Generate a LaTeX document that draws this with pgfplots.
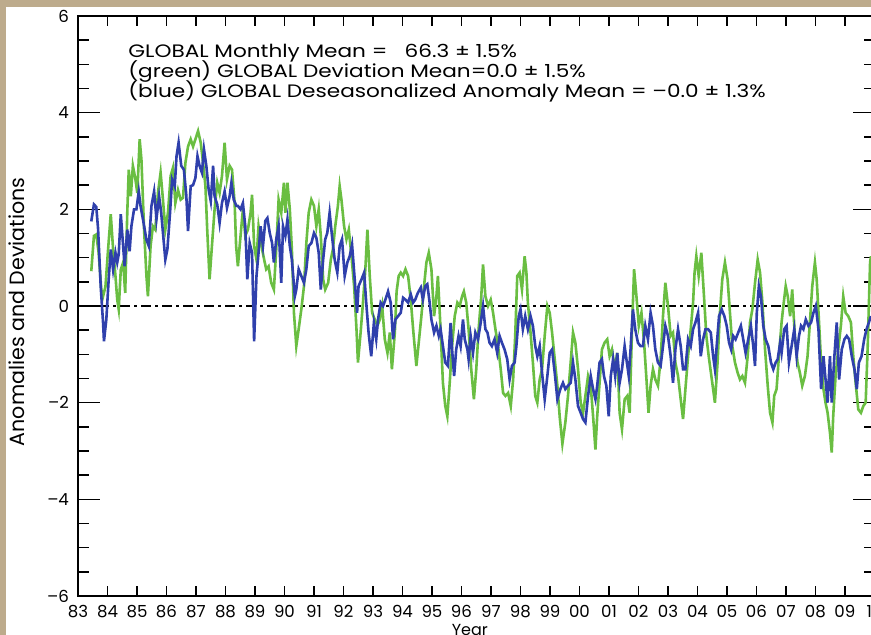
\documentclass[border=0pt]{standalone}
\usepackage{pgfplots}
\pgfplotsset{compat=1.18}
\usepackage{pgfplotstable}
\usepackage{graphicx}
\usepackage{fontspec}
\setmainfont{Poppins}
\definecolor{tanbg}{RGB}{189,171,140}
\definecolor{cblue}{RGB}{47,64,172}
\definecolor{cgreen}{RGB}{106,190,66}

\pgfplotstableread{
year val
1983.45 0.72
1983.54 1.45
1983.62 1.48
1983.70 1.10
1983.79 0.34
1983.85 0.20
1983.93 0.40
1984.02 1.17
1984.11 1.90
1984.19 1.17
1984.27 0.62
1984.33 0.13
1984.38 -0.07
1984.45 0.75
1984.53 0.90
1984.60 0.27
1984.67 1.93
1984.72 2.82
1984.79 2.27
1984.86 2.90
1984.94 2.65
1985.01 2.34
1985.09 3.45
1985.15 3.03
1985.24 1.58
1985.32 0.62
1985.37 0.20
1985.46 1.24
1985.54 1.65
1985.62 1.58
1985.71 2.34
1985.80 2.76
1985.88 2.20
1985.96 1.58
1986.05 1.93
1986.14 2.69
1986.22 2.86
1986.30 2.13
1986.39 2.40
1986.48 2.20
1986.56 2.24
1986.64 2.96
1986.73 3.30
1986.82 3.45
1986.90 3.30
1986.98 3.45
1987.07 3.62
1987.16 3.38
1987.24 2.96
1987.32 2.48
1987.38 1.58
1987.46 0.55
1987.54 1.24
1987.63 2.00
1987.72 2.55
1987.80 2.34
1987.88 2.69
1987.97 3.38
1988.05 2.62
1988.14 2.90
1988.22 2.82
1988.31 2.13
1988.36 1.24
1988.42 0.82
1988.51 1.45
1988.59 2.00
1988.67 1.45
1988.76 1.58
1988.85 1.93
1988.90 2.30
1988.97 1.24
1989.05 0.96
1989.12 1.65
1989.22 1.24
1989.31 0.96
1989.38 0.76
1989.46 0.82
1989.55 0.48
1989.64 0.34
1989.72 1.17
1989.80 2.20
1989.89 1.93
1989.98 2.55
1990.03 1.93
1990.10 2.55
1990.18 2.00
1990.25 1.17
1990.32 -0.14
1990.40 -0.83
1990.48 -0.48
1990.57 -0.07
1990.66 0.41
1990.74 1.30
1990.82 1.93
1990.91 2.20
1991.00 2.07
1991.08 1.65
1991.16 2.00
1991.23 1.45
1991.31 0.55
1991.38 0.34
1991.48 0.48
1991.57 0.96
1991.64 1.17
1991.72 1.65
1991.81 2.07
1991.87 2.48
1991.93 2.20
1992.02 1.65
1992.10 1.38
1992.18 1.58
1992.27 1.03
1992.36 0.41
1992.44 -0.48
1992.49 -1.17
1992.58 -0.55
1992.66 0.07
1992.74 0.76
1992.81 1.58
1992.89 0.62
1992.97 -0.14
1993.06 -0.28
1993.15 -0.41
1993.23 -0.28
1993.31 0.00
1993.40 -0.69
1993.49 -0.97
1993.57 -0.55
1993.64 -1.31
1993.74 -0.55
1993.80 0.30
1993.87 0.62
1993.94 0.69
1994.02 0.62
1994.10 0.76
1994.19 0.62
1994.28 0.13
1994.36 -0.48
1994.47 -1.24
1994.55 -0.76
1994.64 -0.21
1994.73 0.41
1994.81 0.90
1994.89 1.10
1994.98 0.76
1995.07 -0.21
1995.15 0.20
1995.20 0.62
1995.29 -0.48
1995.37 -1.59
1995.45 -2.07
1995.52 -2.28
1995.60 -1.59
1995.68 -0.83
1995.77 -0.21
1995.86 0.07
1995.94 0.00
1996.02 0.20
1996.08 0.30
1996.16 0.07
1996.24 -0.48
1996.33 -1.31
1996.42 -1.93
1996.50 -1.31
1996.58 -0.48
1996.67 0.20
1996.73 0.86
1996.81 0.20
1996.90 0.00
1996.99 0.13
1997.07 -0.14
1997.15 -0.48
1997.24 -0.83
1997.33 -1.31
1997.41 -1.80
1997.49 -1.86
1997.58 -1.80
1997.67 -2.07
1997.75 -1.52
1997.82 -0.62
1997.89 0.62
1997.97 0.69
1998.05 0.34
1998.14 1.03
1998.20 0.69
1998.25 0.07
1998.34 -0.55
1998.42 -1.17
1998.50 -1.86
1998.57 -2.00
1998.65 -1.52
1998.73 -1.31
1998.82 -0.62
1998.91 0.00
1998.99 -0.14
1999.07 -0.55
1999.16 -1.10
1999.25 -1.65
1999.33 -2.30
1999.42 -2.85
1999.52 -2.41
1999.61 -1.86
1999.70 -1.17
1999.78 -0.55
1999.86 -0.76
1999.95 -1.31
2000.04 -2.00
2000.12 -2.21
2000.20 -1.86
2000.29 -1.45
2000.38 -1.65
2000.46 -2.28
2000.54 -2.97
2000.60 -2.28
2000.68 -1.59
2000.76 -0.90
2000.85 -0.76
2000.94 -0.69
2001.02 -1.04
2001.10 -0.90
2001.19 -1.31
2001.28 -0.97
2001.36 -2.21
2001.44 -2.55
2001.53 -1.93
2001.62 -1.86
2001.70 -2.21
2001.78 -0.48
2001.85 0.76
2001.93 0.20
2002.01 -0.41
2002.10 -0.14
2002.19 -0.76
2002.27 -1.52
2002.34 -2.21
2002.41 -1.65
2002.49 -1.31
2002.57 -1.52
2002.66 -1.65
2002.75 -1.10
2002.83 -0.21
2002.91 0.48
2003.00 0.00
2003.09 -0.62
2003.17 -0.55
2003.25 -1.17
2003.34 -1.45
2003.43 -1.93
2003.51 -2.34
2003.59 -1.72
2003.68 -1.04
2003.77 -0.48
2003.85 0.07
2003.90 0.69
2003.96 1.03
2004.04 0.62
2004.13 1.10
2004.22 0.20
2004.30 -0.62
2004.38 -1.04
2004.47 -1.45
2004.59 -2.00
2004.68 -1.17
2004.76 -0.14
2004.84 0.55
2004.93 0.90
2005.02 0.55
2005.10 -0.14
2005.18 -0.83
2005.27 -1.17
2005.36 -1.38
2005.44 -1.52
2005.52 -1.45
2005.61 -1.59
2005.70 -1.04
2005.78 -0.34
2005.86 -0.07
2005.95 0.48
2006.04 0.96
2006.12 0.69
2006.20 0.07
2006.29 -0.90
2006.38 -1.65
2006.46 -2.21
2006.54 -2.41
2006.60 -1.86
2006.68 -1.72
2006.76 -1.04
2006.85 -0.34
2006.91 0.00
2006.99 0.41
2007.06 0.20
2007.14 -0.21
2007.21 0.34
2007.30 -0.62
2007.39 -1.17
2007.47 -1.38
2007.55 -1.65
2007.64 -1.45
2007.73 -1.04
2007.81 -0.34
2007.89 0.41
2007.98 0.90
2008.04 0.55
2008.12 -0.34
2008.19 -1.17
2008.27 -1.72
2008.34 -2.00
2008.41 -2.21
2008.49 -2.62
2008.55 -3.03
2008.60 -2.28
2008.68 -1.45
2008.77 -0.90
2008.86 -0.41
2008.94 0.20
2009.02 -0.14
2009.11 -0.21
2009.20 -0.34
2009.28 -1.04
2009.36 -1.59
2009.45 -2.14
2009.54 -2.21
2009.62 -2.07
2009.70 -2.00
2009.77 -0.83
2009.85 0.90
2009.88 1.03
}\greendata

\pgfplotstableread{
year val
1983.45 1.75
1983.54 2.10
1983.62 2.05
1983.68 1.60
1983.77 0.40
1983.85 -0.35
1983.88 -0.73
1983.96 -0.28
1984.04 0.55
1984.11 1.17
1984.19 0.75
1984.27 1.10
1984.33 0.90
1984.38 1.07
1984.45 1.90
1984.53 1.24
1984.58 0.82
1984.67 1.58
1984.75 1.13
1984.81 1.65
1984.90 2.00
1984.98 2.00
1985.06 2.37
1985.12 2.07
1985.20 1.80
1985.32 1.37
1985.40 1.24
1985.49 2.07
1985.58 2.37
1985.66 1.80
1985.75 2.27
1985.82 1.93
1985.96 0.96
1986.03 1.17
1986.12 1.93
1986.19 2.62
1986.28 2.48
1986.34 3.10
1986.41 3.38
1986.50 2.90
1986.59 2.82
1986.67 2.30
1986.73 1.55
1986.82 2.48
1986.90 2.50
1986.98 2.65
1987.05 3.10
1987.12 2.90
1987.20 2.76
1987.27 3.24
1987.35 2.90
1987.43 2.40
1987.50 2.17
1987.58 2.90
1987.63 2.27
1987.72 2.10
1987.80 1.72
1987.88 2.13
1987.97 2.37
1988.05 2.03
1988.14 2.27
1988.20 2.55
1988.28 2.20
1988.37 2.07
1988.42 2.07
1988.51 2.00
1988.59 2.13
1988.67 1.65
1988.74 0.55
1988.82 1.30
1988.90 1.10
1988.97 -0.73
1989.05 0.62
1989.12 1.10
1989.19 1.65
1989.27 1.24
1989.35 1.76
1989.42 1.82
1989.50 1.51
1989.58 1.30
1989.64 0.90
1989.72 1.38
1989.80 1.65
1989.89 0.48
1989.95 1.65
1990.03 1.45
1990.10 1.79
1990.18 1.24
1990.25 0.96
1990.35 0.20
1990.40 0.34
1990.48 0.76
1990.57 0.62
1990.66 0.48
1990.74 0.76
1990.82 1.24
1990.91 1.30
1991.00 1.51
1991.08 1.41
1991.16 1.10
1991.23 0.34
1991.31 0.96
1991.38 1.38
1991.45 1.51
1991.53 1.93
1991.61 1.45
1991.70 0.96
1991.79 0.69
1991.87 1.24
1991.95 1.38
1992.04 0.62
1992.13 0.90
1992.21 1.03
1992.29 1.27
1992.38 0.55
1992.46 -0.14
1992.51 0.41
1992.61 0.55
1992.70 0.69
1992.77 0.07
1992.85 -0.55
1992.94 -1.04
1993.03 -0.35
1993.11 -0.69
1993.17 -0.28
1993.26 0.07
1993.34 0.00
1993.42 0.13
1993.51 0.30
1993.60 0.07
1993.68 -0.69
1993.76 -0.28
1993.85 -0.21
1993.94 -0.14
1994.02 0.17
1994.10 0.13
1994.19 0.07
1994.28 0.24
1994.36 0.07
1994.43 0.13
1994.52 0.27
1994.62 0.38
1994.69 0.13
1994.77 0.41
1994.84 0.45
1994.92 0.07
1994.98 -0.28
1995.07 -0.55
1995.15 -0.41
1995.23 -0.62
1995.29 -0.48
1995.37 -0.83
1995.45 -1.17
1995.54 -1.24
1995.63 -0.35
1995.68 -0.90
1995.75 -1.45
1995.82 -0.90
1995.90 -0.62
1995.97 -0.83
1996.05 -0.28
1996.11 -0.69
1996.20 -0.90
1996.24 -1.10
1996.31 -0.62
1996.39 -0.97
1996.47 -0.55
1996.56 -0.69
1996.65 -0.35
1996.73 0.00
1996.81 -0.48
1996.88 -0.55
1996.95 -0.76
1997.03 -0.83
1997.12 -0.69
1997.21 -0.97
1997.29 -0.62
1997.37 -0.76
1997.46 -0.90
1997.55 -1.10
1997.63 -1.52
1997.71 -1.24
1997.80 -1.17
1997.86 -0.83
1997.94 -0.21
1998.00 -0.07
1998.08 -0.48
1998.16 -0.21
1998.25 -0.48
1998.34 -0.21
1998.42 -0.41
1998.50 -0.83
1998.57 -1.04
1998.65 -0.83
1998.73 -1.38
1998.82 -1.93
1998.91 -1.45
1998.99 -0.97
1999.07 -0.90
1999.16 -1.38
1999.25 -1.93
1999.35 -1.72
1999.44 -1.59
1999.52 -1.72
1999.61 -1.65
1999.70 -1.59
1999.78 -1.17
1999.86 -1.52
1999.95 -2.07
2000.04 -2.21
2000.12 -2.34
2000.20 -2.41
2000.29 -1.86
2000.38 -1.45
2000.46 -1.72
2000.54 -1.93
2000.60 -1.65
2000.68 -1.17
2000.76 -1.10
2000.83 -1.45
2000.91 -1.65
2000.99 -2.28
2001.06 -1.45
2001.14 -1.10
2001.21 -1.45
2001.28 -0.97
2001.36 -1.59
2001.44 -1.31
2001.53 -0.83
2001.59 -1.10
2001.67 -1.45
2001.73 -0.90
2001.81 -0.07
2001.89 -0.48
2001.98 -0.76
2002.07 -0.83
2002.15 -0.83
2002.23 -0.41
2002.32 -0.69
2002.41 -0.14
2002.49 -0.41
2002.57 -0.90
2002.66 -1.17
2002.75 -1.24
2002.83 -0.83
2002.91 -0.41
2003.00 -0.62
2003.09 -1.04
2003.17 -1.59
2003.25 -0.90
2003.34 -0.48
2003.43 -0.83
2003.51 -1.31
2003.59 -1.31
2003.68 -0.69
2003.77 -0.83
2003.85 -0.48
2003.93 -0.34
2004.02 -0.14
2004.11 -1.04
2004.19 -0.69
2004.27 -0.48
2004.36 -0.48
2004.45 -0.55
2004.53 -1.04
2004.59 -1.31
2004.65 -0.83
2004.73 -0.21
2004.82 -0.07
2004.91 -0.21
2004.99 -0.41
2005.07 -0.76
2005.14 -0.90
2005.21 -0.62
2005.29 -0.69
2005.38 -0.55
2005.47 -0.41
2005.55 -0.69
2005.63 -0.97
2005.72 -0.69
2005.81 -0.41
2005.89 -0.83
2005.95 -1.24
2006.01 -0.14
2006.08 0.41
2006.15 0.20
2006.23 -0.41
2006.31 -0.69
2006.40 -0.83
2006.49 -1.17
2006.57 -1.31
2006.65 -1.17
2006.72 -1.10
2006.80 -0.76
2006.85 -0.97
2006.94 -0.48
2007.02 -0.41
2007.10 -1.17
2007.19 -0.83
2007.28 -0.48
2007.36 -1.04
2007.44 -0.62
2007.51 -0.41
2007.59 -0.48
2007.67 -0.28
2007.76 -0.41
2007.85 -0.34
2007.93 -0.14
2008.01 0.00
2008.10 -0.48
2008.19 -1.72
2008.27 -1.04
2008.34 -1.52
2008.41 -2.00
2008.49 -1.04
2008.55 -2.00
2008.64 -1.04
2008.72 -0.34
2008.80 -1.52
2008.89 -0.90
2008.98 -0.69
2009.06 -0.62
2009.14 -0.69
2009.23 -1.04
2009.32 -1.31
2009.40 -1.72
2009.47 -1.17
2009.56 -1.04
2009.65 -0.69
2009.73 -0.48
2009.81 -0.34
2009.88 -0.21
}\bluedata

\begin{document}
\begin{tikzpicture}[x=1pt,y=1pt]
\fill[tanbg] (0,0) rectangle (435.5,317.5);
\fill[white] (3,0) rectangle (435.5,314);
\begin{scope}
\clip (3,0) rectangle (435.5,314);
\begin{axis}[
  at={(39pt,19.5pt)}, anchor=south west,
  scale only axis, width=398.25pt, height=290pt,
  xmin=1983, xmax=2010, ymin=-6, ymax=6,
  axis line style={line width=1pt, black},
  xtick={1983,...,2010},
  xticklabels={83,84,85,86,87,88,89,90,91,92,93,94,95,96,97,98,99,00,01,02,03,04,05,06,07,08,09,10},
  ytick={-6,-4,-2,0,2,4,6},
  yticklabels={–6,–4,–2,0,2,4,6},
  minor y tick num=3,
  major tick length=11pt, minor tick length=5.5pt,
  xtick style={/pgfplots/major tick length=5pt, line width=0.7pt, black},
  ytick style={line width=0.7pt, black},
  minor y tick style={line width=0.7pt, black},
  tick label style={font=\fontsize{8.3}{9}\selectfont},
  xticklabel style={yshift=-1pt},
  yticklabel style={xshift=-1pt},
  xlabel={Year},
  xlabel style={font=\fontsize{8}{9}\selectfont, at={(axis description cs:0.492,-0.036)}, anchor=north},
  ylabel={Anomalies and Deviations},
  ylabel style={font=\fontsize{10.3}{12}\selectfont, at={(axis description cs:-0.0766,0.49)}, anchor=center},
  clip=true,
]
\addplot[black, line width=1.3pt, dash pattern=on 5pt off 2pt on 1.5pt off 2pt] coordinates {(1983,0) (2010,0)};
\addplot[cgreen, line width=1.3pt] table[x=year, y=val] {\greendata};
\addplot[cblue, line width=1.3pt] table[x=year, y=val] {\bluedata};
\end{axis}
\end{scope}
\node[anchor=base west, inner sep=0pt, font=\fontsize{9}{10}\selectfont] at (64,288.5) {\scalebox{1.2}[1]{GLOBAL Monthly Mean =\ \ \ 66.3 ± 1.5\%}};
\node[anchor=base west, inner sep=0pt, font=\fontsize{9}{10}\selectfont] at (64,278.5) {\scalebox{1.2}[1]{(green) GLOBAL Deviation Mean=0.0 ± 1.5\%}};
\node[anchor=base west, inner sep=0pt, font=\fontsize{9}{10}\selectfont] at (64,268.5) {\scalebox{1.2}[1]{(blue) GLOBAL Deseasonalized Anomaly Mean = –0.0 ± 1.3\%}};
\pgfresetboundingbox
\path[use as bounding box] (0,0) rectangle (435.5,317.5);
\end{tikzpicture}
\end{document}
